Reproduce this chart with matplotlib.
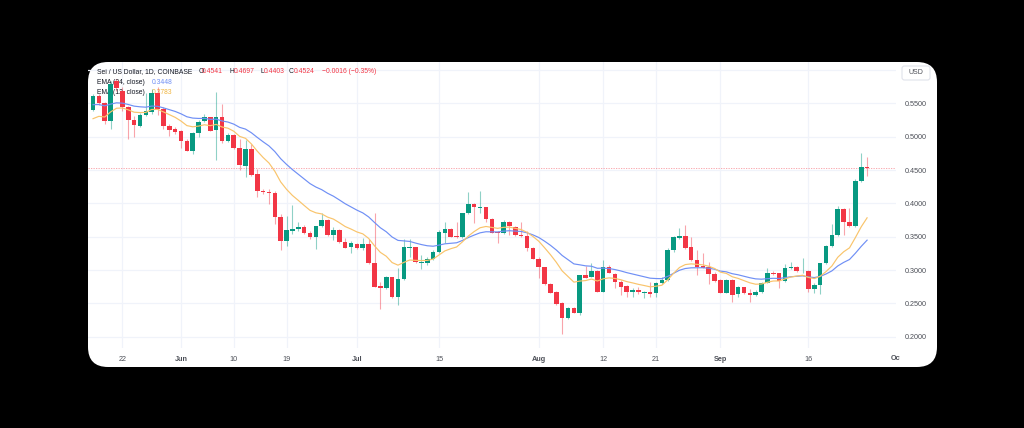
import numpy as np
import pandas as pd
import matplotlib
matplotlib.use("Agg")
import matplotlib.pyplot as plt
import matplotlib.dates as mdates
from matplotlib.patches import FancyBboxPatch
from matplotlib.transforms import IdentityTransform, Bbox, blended_transform_factory

plt.rcParams["font.family"] = ["Liberation Sans", "DejaVu Sans"]

W, H = 1024, 428

# SEI / USD daily candles, 2024-05-17 .. 2024-09-26
dates = pd.date_range("2024-05-17", "2024-09-26", freq="D")

opens = [
    0.5405, 0.5615, 0.550, 0.524, 0.584, 0.569, 0.545, 0.525, 0.5165, 0.533,
    0.537, 0.565, 0.5415, 0.5165, 0.5115, 0.508, 0.493, 0.479, 0.505, 0.524,
    0.529, 0.510, 0.529, 0.494, 0.503, 0.483, 0.4565, 0.4815, 0.444, 0.419,
    0.4165, 0.415, 0.380, 0.343, 0.358, 0.361, 0.364, 0.355, 0.349, 0.3655,
    0.375, 0.353, 0.360, 0.3415, 0.334, 0.339, 0.3325, 0.3385, 0.311, 0.276,
    0.2725, 0.289, 0.259, 0.286, 0.3335, 0.334, 0.311, 0.311, 0.316, 0.3275,
    0.356, 0.362, 0.351, 0.350, 0.385, 0.3985, 0.393, 0.394, 0.376, 0.3575,
    0.355, 0.3725, 0.365, 0.3525, 0.351, 0.3335, 0.317, 0.304, 0.279, 0.2675,
    0.250, 0.2275, 0.2435, 0.236, 0.292, 0.290, 0.299, 0.2675, 0.305, 0.294,
    0.2825, 0.276, 0.267, 0.2695, 0.266, 0.2675, 0.265, 0.281, 0.285, 0.330,
    0.3475, 0.3515, 0.334, 0.315, 0.306, 0.304, 0.294, 0.285, 0.266, 0.285,
    0.264, 0.274, 0.266, 0.2625, 0.267, 0.281, 0.296, 0.295, 0.284, 0.3035,
    0.305, 0.298, 0.299, 0.271, 0.2775, 0.310, 0.336, 0.3525, 0.391, 0.3725,
    0.366, 0.433, 0.4541,
]
highs = [
    0.564, 0.564, 0.5515, 0.584, 0.5865, 0.574, 0.5465, 0.5315, 0.535, 0.565,
    0.5715, 0.574, 0.544, 0.519, 0.514, 0.510, 0.4965, 0.5065, 0.525, 0.534,
    0.530, 0.5665, 0.549, 0.505, 0.504, 0.4965, 0.495, 0.489, 0.4515, 0.4215,
    0.4215, 0.419, 0.384, 0.3815, 0.398, 0.3715, 0.368, 0.358, 0.3665, 0.385,
    0.3765, 0.364, 0.3615, 0.348, 0.344, 0.341, 0.3475, 0.346, 0.385, 0.2825,
    0.291, 0.290, 0.3025, 0.346, 0.346, 0.335, 0.3225, 0.320, 0.330, 0.360,
    0.3725, 0.3625, 0.3725, 0.386, 0.4175, 0.400, 0.419, 0.395, 0.3775, 0.359,
    0.375, 0.374, 0.366, 0.3725, 0.359, 0.335, 0.319, 0.305, 0.281, 0.269,
    0.2525, 0.245, 0.245, 0.2925, 0.306, 0.310, 0.300, 0.315, 0.3075, 0.296,
    0.285, 0.277, 0.2725, 0.275, 0.269, 0.2825, 0.2825, 0.290, 0.3325, 0.351,
    0.3625, 0.3675, 0.349, 0.330, 0.326, 0.3125, 0.2975, 0.286, 0.286, 0.286,
    0.276, 0.275, 0.271, 0.270, 0.2825, 0.3025, 0.299, 0.296, 0.309, 0.3125,
    0.3065, 0.3175, 0.300, 0.281, 0.311, 0.3375, 0.369, 0.396, 0.3925, 0.3925,
    0.436, 0.476, 0.4697,
]
lows = [
    0.539, 0.548, 0.519, 0.5115, 0.569, 0.539, 0.4965, 0.499, 0.515, 0.5315,
    0.534, 0.533, 0.5115, 0.5015, 0.504, 0.483, 0.478, 0.474, 0.499, 0.5215,
    0.508, 0.465, 0.490, 0.4915, 0.4815, 0.450, 0.440, 0.4415, 0.409, 0.414,
    0.399, 0.369, 0.330, 0.3365, 0.354, 0.359, 0.354, 0.3465, 0.3315, 0.364,
    0.3515, 0.345, 0.3405, 0.3325, 0.325, 0.331, 0.330, 0.309, 0.274, 0.241,
    0.271, 0.2585, 0.2475, 0.285, 0.319, 0.311, 0.301, 0.3075, 0.315, 0.326,
    0.340, 0.349, 0.3475, 0.3475, 0.384, 0.371, 0.385, 0.3725, 0.355, 0.340,
    0.354, 0.3525, 0.351, 0.349, 0.329, 0.316, 0.2875, 0.2775, 0.265, 0.2475,
    0.2035, 0.226, 0.235, 0.2325, 0.2875, 0.289, 0.2665, 0.2665, 0.295, 0.2725,
    0.2625, 0.259, 0.260, 0.264, 0.2575, 0.260, 0.260, 0.279, 0.284, 0.3275,
    0.346, 0.331, 0.314, 0.2925, 0.3025, 0.279, 0.2825, 0.265, 0.265, 0.2525,
    0.259, 0.264, 0.2525, 0.261, 0.266, 0.280, 0.2925, 0.2725, 0.2825, 0.301,
    0.2975, 0.296, 0.2675, 0.266, 0.264, 0.309, 0.335, 0.351, 0.3525, 0.364,
    0.364, 0.4325, 0.4403,
]
closes = [
    0.5615, 0.550, 0.524, 0.579, 0.573, 0.545, 0.525, 0.5175, 0.533, 0.538,
    0.565, 0.5415, 0.5165, 0.5105, 0.5065, 0.493, 0.479, 0.505, 0.5215, 0.529,
    0.509, 0.529, 0.493, 0.503, 0.483, 0.458, 0.4815, 0.443, 0.419, 0.4165,
    0.415, 0.380, 0.344, 0.360, 0.3615, 0.364, 0.355, 0.349, 0.3655, 0.375,
    0.353, 0.360, 0.3415, 0.3335, 0.3405, 0.3335, 0.3385, 0.310, 0.275, 0.2725,
    0.289, 0.259, 0.286, 0.334, 0.335, 0.3115, 0.3125, 0.316, 0.3275, 0.3565,
    0.362, 0.350, 0.349, 0.385, 0.3985, 0.395, 0.3945, 0.376, 0.356, 0.355,
    0.3725, 0.366, 0.3525, 0.351, 0.3335, 0.317, 0.304, 0.279, 0.266, 0.249,
    0.2275, 0.2435, 0.236, 0.292, 0.2885, 0.299, 0.2675, 0.305, 0.296, 0.2825,
    0.275, 0.2675, 0.270, 0.2665, 0.267, 0.264, 0.281, 0.285, 0.330, 0.349,
    0.3515, 0.3325, 0.315, 0.305, 0.3035, 0.294, 0.284, 0.266, 0.285, 0.2625,
    0.274, 0.266, 0.2625, 0.267, 0.281, 0.296, 0.294, 0.284, 0.3035, 0.305,
    0.299, 0.299, 0.271, 0.2775, 0.310, 0.336, 0.3525, 0.391, 0.3725, 0.366,
    0.433, 0.4540, 0.4524,
]

# EMA values at the first visible day (history before it is off-chart)
ema12_start = 0.527
ema24_start = 0.548

price_ticks = [0.20, 0.25, 0.30, 0.35, 0.40, 0.45, 0.50, 0.55, 0.60]
date_ticks = ["2024-05-22", "2024-06-01", "2024-06-10", "2024-06-19", "2024-07-01",
              "2024-07-15", "2024-08-01", "2024-08-12", "2024-08-21", "2024-09-01",
              "2024-09-16"]
date_labels = ["22", "Jun", "10", "19", "Jul", "15", "Aug", "12", "21", "Sep", "16"]
month_labels = {"Jun", "Jul", "Aug", "Sep"}

UP = "#089981"
DOWN = "#f23645"
TXT = "#131722"
AXTXT = "#4c4f57"
EMA24_C = "#6f8ff5"
EMA12_C = "#f9c46b"


def ema(values, span, seed):
    alpha = 2.0 / (span + 1)
    out = [seed]
    for v in values[1:]:
        out.append(alpha * v + (1 - alpha) * out[-1])
    return np.array(out)


o = np.array(opens)
h = np.array(highs)
l = np.array(lows)
c = np.array(closes)
x = mdates.date2num(dates)
ema12 = ema(c, 12, ema12_start)
ema24 = ema(c, 24, ema24_start)

fig = plt.figure(figsize=(W / 100, H / 100), dpi=100, facecolor="black")

card = FancyBboxPatch((88, H - 367), 937 - 88, 367 - 62,
                      boxstyle="round,pad=0,rounding_size=20",
                      transform=IdentityTransform(), facecolor="white",
                      edgecolor="none", zorder=-1)
fig.add_artist(card)

ax = fig.add_axes([88 / W, (H - 348) / H, (896 - 88) / W, (348 - 62) / H])
ax.patch.set_alpha(0)
for s in ax.spines.values():
    s.set_visible(False)

jun1 = mdates.date2num(pd.Timestamp("2024-06-01"))
ax.set_xlim(jun1 - 15.86, jun1 + 121.93)
ax.set_ylim(0.1831, 0.612)

ax.set_yticks(price_ticks)
ax.set_yticklabels([f"{p:.4f}" if p < 0.59 else "" for p in price_ticks])
ax.yaxis.tick_right()
ax.tick_params(axis="y", length=0, pad=6.5, labelsize=5.2, labelcolor=AXTXT)

ax.set_xticks(mdates.date2num(pd.to_datetime(date_ticks)))
ax.set_xticklabels(date_labels)
ax.tick_params(axis="x", length=0, pad=6, labelsize=5.2, labelcolor=AXTXT)
for t in ax.get_xticklabels():
    if t.get_text() in month_labels:
        t.set_fontweight("bold")

ax.grid(True, color="#f0f3fa", linewidth=0.9)
ax.set_axisbelow(True)

# candles
up = c >= o
body_col = np.where(up, UP, DOWN)
wick_col = [matplotlib.colors.to_rgba(col, 0.45) for col in body_col]
ax.vlines(x, l, h, colors=wick_col, linewidth=0.8, zorder=2)
ax.bar(x, np.maximum(np.abs(c - o), 0.0012), bottom=np.minimum(o, c),
       width=0.78, color=body_col, linewidth=0, zorder=3)

ax.plot(x, ema24, color=EMA24_C, linewidth=0.85, zorder=4)
ax.plot(x, ema12, color=EMA12_C, linewidth=0.85, zorder=4)

ax.axhline(c[-1], color=DOWN, alpha=0.5, linewidth=0.6,
           linestyle=(0, (1.5, 1.5)), zorder=1.5)

# legend lines at top-left
pix = IdentityTransform()
fs = 4.9
chg = c[-1] - c[-2]
pct = chg / c[-2] * 100
row1 = [
    (97, "Sei / US Dollar, 1D, COINBASE", TXT),
    (198.3, "O", TXT), (202, f"{o[-1]:.4f}", DOWN),
    (229.3, "H", TXT), (234, f"{h[-1]:.4f}", DOWN),
    (260.7, "L", TXT), (264, f"{l[-1]:.4f}", DOWN),
    (289, "C", TXT), (293.3, f"{c[-1]:.4f}", DOWN),
    (321.7, f"{chg:.4f} ({pct:.2f}%)".replace("-", "\u2212"), DOWN),
]
for px_, s, col in row1:
    ax.text(px_, H - 71.7, s, transform=pix, fontsize=fs, color=col,
            va="center", ha="left", zorder=1)
ax.text(97, H - 82.3, "EMA (24, close)", transform=pix, fontsize=fs, color=TXT,
        va="center", zorder=1)
ax.text(151.7, H - 82.3, f"{ema24[-1]:.4f}", transform=pix, fontsize=fs,
        color=EMA24_C, va="center", zorder=1)
ax.text(97, H - 92.7, "EMA (12, close)", transform=pix, fontsize=fs, color=TXT,
        va="center", zorder=1)
ax.text(151.7, H - 92.7, f"{ema12[-1]:.4f}", transform=pix, fontsize=fs,
        color="#f0b43c", va="center", zorder=1)

# USD box on price scale
usd = FancyBboxPatch((902, H - 80), 28, 14, boxstyle="round,pad=0,rounding_size=2.5",
                     transform=pix, facecolor="white", edgecolor="#e0e3eb",
                     linewidth=0.8, zorder=5)
fig.add_artist(usd)
fig.text(916, H - 73, "USD", transform=pix, fontsize=5.0, color=AXTXT,
         ha="center", va="center", zorder=6)

# "Oct" label cut off by the price scale
oct_t = ax.text(mdates.date2num(pd.Timestamp("2024-10-01")), H - 358.7, "Oct",
                transform=blended_transform_factory(ax.transData, pix),
                fontsize=5.2, color=AXTXT, fontweight="bold",
                ha="center", va="center", clip_on=True)
oct_t.set_clip_box(Bbox.from_extents(0, 0, 900, H))

fig.savefig("out.png", dpi=100, facecolor="black")
